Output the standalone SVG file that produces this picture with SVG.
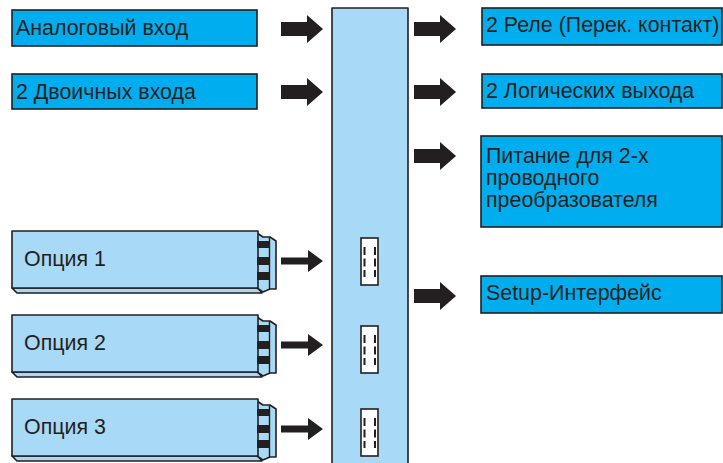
<svg xmlns="http://www.w3.org/2000/svg" width="723" height="463" viewBox="0 0 723 463">
<style>
.box{fill:#00aeef;stroke:#231f20;stroke-width:1.6}
.lb{fill:#a8d9f7;stroke:#231f20;stroke-width:1.6;stroke-linejoin:round}
.t{font-family:"Liberation Sans",Arial,sans-serif;font-size:21.4px;fill:#231f20}
.arr{fill:#231f20}
.pin{fill:#231f20}
.slot{fill:#fff;stroke:#231f20;stroke-width:1.6}
.dash{stroke:#231f20;stroke-width:2;stroke-dasharray:8 3.5}
</style>
<defs>
<path id="bigArrow" d="M0,-7 L26,-7 L26,-14 L42,0 L26,14 L26,7 L0,7 Z"/>
<path id="smArrow" d="M0,-3.5 L27,-3.5 L27,-11 L42,0 L27,11 L27,3.5 L0,3.5 Z"/>
<g id="module">
<polygon class="lb" points="12,57 17,62 262,62 258,57"/>
<polygon class="lb" points="257,2 263,6 270,6 276,10 276,58 270,58 263,61 257,57"/>
<line x1="269.5" y1="6" x2="269.5" y2="58" stroke="#231f20" stroke-width="1.4"/>
<rect class="lb" x="12" y="0" width="246" height="57"/>
<rect class="pin" x="257" y="10" width="12.5" height="7"/>
<rect class="pin" x="257" y="26" width="12.5" height="8"/>
<rect class="pin" x="257" y="41" width="12.5" height="8"/>
</g>
<g id="slotShape">
<rect class="slot" x="361" y="0" width="17" height="47"/>
<line class="dash" x1="364.5" y1="9" x2="364.5" y2="39"/>
<line class="dash" x1="375" y1="9" x2="375" y2="39"/>
</g>
</defs>

<g id="bus">
<rect class="lb" x="332" y="8" width="76" height="470"/>
<use href="#slotShape" y="238"/>
<use href="#slotShape" y="326"/>
<use href="#slotShape" y="409"/>
</g>

<g id="in-analog">
<rect class="box" x="12" y="10" width="245" height="36"/>
<text class="t" x="16" y="35">Аналоговый вход</text>
</g>
<g id="in-binary">
<rect class="box" x="12" y="74" width="245" height="35"/>
<text class="t" x="16" y="99">2 Двоичных входа</text>
</g>

<g id="out-relay">
<rect class="box" x="482" y="8" width="240" height="37"/>
<text class="t" x="486" y="32">2 Реле (Перек. контакт)</text>
</g>
<g id="out-logic">
<rect class="box" x="482" y="74" width="240" height="34"/>
<text class="t" x="486" y="98">2 Логических выхода</text>
</g>
<g id="out-power">
<rect class="box" x="481" y="136" width="241" height="91"/>
<text class="t" x="486" y="163">Питание для 2-х</text>
<text class="t" x="486" y="185">проводного</text>
<text class="t" x="486" y="207">преобразователя</text>
</g>
<g id="out-setup">
<rect class="box" x="481" y="276" width="241" height="37"/>
<text class="t" x="486" y="300">Setup-Интерфейс</text>
</g>

<g id="option1">
<use href="#module" y="231"/>
<text class="t" x="24" y="266">Опция 1</text>
</g>
<g id="option2">
<use href="#module" y="315"/>
<text class="t" x="24" y="350">Опция 2</text>
</g>
<g id="option3">
<use href="#module" y="399"/>
<text class="t" x="24" y="434">Опция 3</text>
</g>

<g id="connectors" class="arr">
<use href="#bigArrow" x="281" y="29"/>
<use href="#bigArrow" x="281" y="92"/>
<use href="#bigArrow" x="414" y="29"/>
<use href="#bigArrow" x="414" y="92"/>
<use href="#bigArrow" x="414" y="156"/>
<use href="#bigArrow" x="414" y="296"/>
<use href="#smArrow" x="281" y="261"/>
<use href="#smArrow" x="281" y="345"/>
<use href="#smArrow" x="281" y="429"/>
</g>
</svg>
